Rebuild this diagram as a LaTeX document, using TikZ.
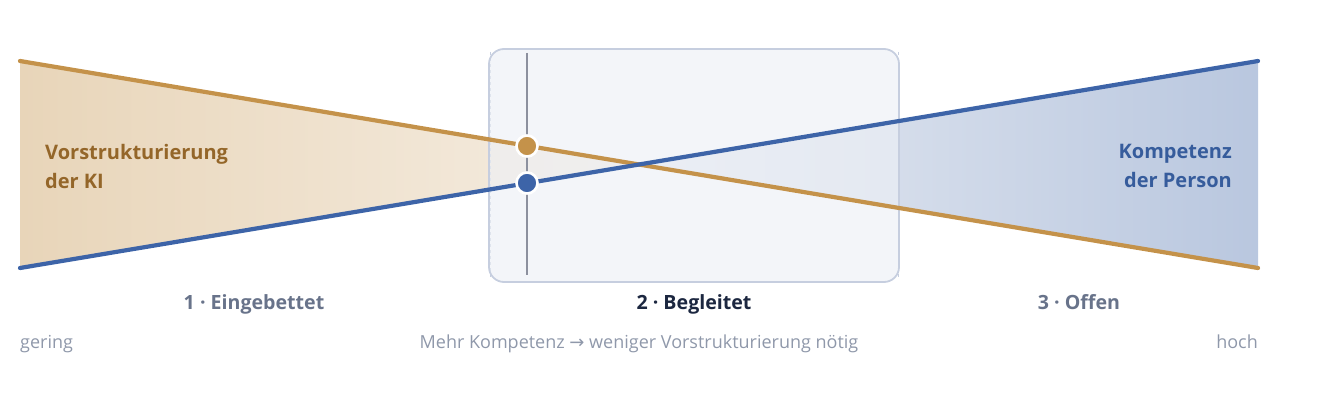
\documentclass[tikz,border=0pt]{standalone}
\usepackage{fontspec}
\setmainfont{Open Sans}
\newfontfamily\symfont{DejaVu Sans}
\definecolor{ocol}{HTML}{C4924A}
\definecolor{bcol}{HTML}{3D64A8}
\definecolor{ofillL}{HTML}{E8D5B9}
\definecolor{ofillR}{HTML}{F6EEE3}
\definecolor{bfillL}{HTML}{E8ECF3}
\definecolor{bfillR}{HTML}{B9C7DF}
\definecolor{boxfill}{HTML}{EDF0F6}
\definecolor{boxdraw}{HTML}{C6CEDF}
\definecolor{vline}{HTML}{8C909E}
\definecolor{otext}{HTML}{946629}
\definecolor{btext}{HTML}{365C9C}
\definecolor{steptext}{HTML}{68738A}
\definecolor{stepactive}{HTML}{1C2740}
\definecolor{axistext}{HTML}{8F98AA}
\tikzset{
  curve/.style={line width=4.2pt, line cap=round},
  dot/.style={circle, draw=white, line width=2.6pt, minimum size=21pt, inner sep=0pt},
  bandlabel/.style={font=\fontsize{20}{29}\selectfont\bfseries, inner sep=0pt},
  steplabel/.style={font=\fontsize{19.6}{24}\selectfont\bfseries, anchor=base, inner sep=0pt},
  axislabel/.style={font=\fontsize{18}{20}\selectfont, text=axistext, anchor=base, inner sep=0pt},
  zonebox/.style={draw=boxdraw, line width=1.8pt, fill=boxfill, fill opacity=0.65, rounded corners=15pt},
}
\begin{document}
\begin{tikzpicture}[x=1pt,y=-1pt]
\useasboundingbox (0,0) rectangle (1322,404);
% end points
\coordinate (oL) at (20,61);
\coordinate (oR) at (1258,268);
\coordinate (bL) at (20,268);
\coordinate (bR) at (1258,61);
\coordinate (cross) at (639,164.5);
% fills
\shade[left color=ofillL, right color=ofillR] (oL) -- (cross) -- (bL) -- cycle;
\shade[left color=bfillL, right color=bfillR] (cross) -- (bR) -- (oR) -- cycle;
% band edges
\draw[boxdraw, line width=1pt, dashed] (490,52) -- (490,279);
\draw[boxdraw, line width=1pt, dashed] (898,52) -- (898,279);
% middle box
\draw[zonebox] (489,49) rectangle (899,282);
% marker line
\coordinate (mT) at (527,53);
\coordinate (mB) at (527,275);
\draw[vline, line width=2.5pt] (mT) -- (mB);
% curves
\draw[curve, ocol] (oL) -- (oR);
\draw[curve, bcol] (bL) -- (bR);
% dots
\node[dot, fill=ocol] (od) at (527,146) {};
\node[dot, fill=bcol] (bd) at (527,183) {};
% band labels
\node[bandlabel, text=otext, anchor=west, align=left] (lk) at (45,166) {Vorstrukturierung\\der KI};
\node[bandlabel, text=btext, anchor=east, align=right] (rk) at (1232,166) {Kompetenz\\der Person};
% step labels
\node[steplabel, text=steptext] (s1) at (254,309) {1 · Eingebettet};
\node[steplabel, text=stepactive] (s2) at (694,309) {2 · Begleitet};
\node[steplabel, text=steptext] (s3) at (1079,309) {3 · Offen};
% axis labels
\node[axislabel, anchor=base west] (ag) at (20,348) {gering};
\node[axislabel] (am) at (639,348) {Mehr Kompetenz {\symfont →} weniger Vorstrukturierung nötig};
\node[axislabel, anchor=base east] (ah) at (1258,348) {hoch};
\end{tikzpicture}
\end{document}
